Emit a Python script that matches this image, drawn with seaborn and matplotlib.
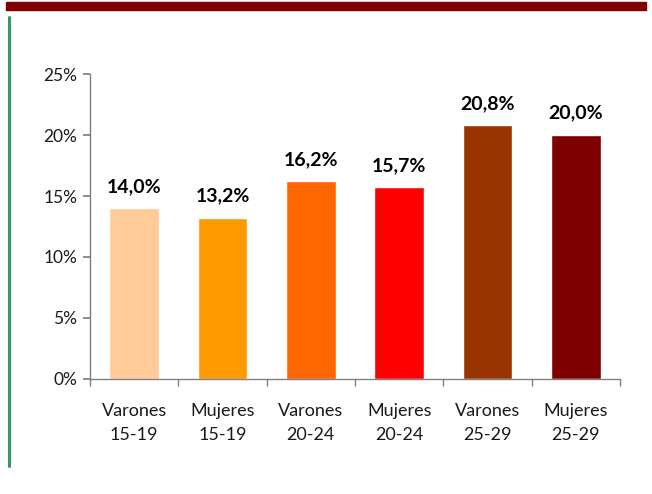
import matplotlib
matplotlib.use("Agg")
import matplotlib.pyplot as plt
import seaborn as sns
import pandas as pd
from matplotlib.ticker import FixedLocator, FuncFormatter
from matplotlib.patches import Rectangle
from matplotlib.lines import Line2D

categories = ["Varones\n15-19", "Mujeres\n15-19", "Varones\n20-24",
              "Mujeres\n20-24", "Varones\n25-29", "Mujeres\n25-29"]
values = [14.0, 13.2, 16.2, 15.7, 20.8, 20.0]
value_labels = ["14,0%", "13,2%", "16,2%", "15,7%", "20,8%", "20,0%"]
colors = ["#FFCC99", "#FF9900", "#FF6600", "#FF0000", "#993300", "#800000"]
y_ticks = [0, 5, 10, 15, 20, 25]

sns.set_theme(style="white")
plt.rcParams['font.family'] = ['Lato', 'DejaVu Sans']

df = pd.DataFrame({"cat": categories, "val": values})

fig = plt.figure(figsize=(6.52, 4.94), dpi=100)
ax = fig.add_axes([0.138, 0.233, 0.813, 0.617])

sns.barplot(data=df, x="cat", y="val", hue="cat", palette=colors,
            legend=False, width=0.56, saturation=1, ax=ax)

ax.set_ylim(0, 25)
ax.set_xlim(-0.5, len(categories) - 0.5)
ax.yaxis.set_major_locator(FixedLocator(y_ticks))
ax.yaxis.set_major_formatter(FuncFormatter(lambda v, p: f"{int(v)}%"))
ax.set_xlabel("")
ax.set_ylabel("")

for s in ["top", "right"]:
    ax.spines[s].set_visible(False)
for s in ["left", "bottom"]:
    ax.spines[s].set_color("#808080")
    ax.spines[s].set_linewidth(1)

ax.tick_params(axis="y", direction="out", length=5, color="#808080",
               left=True, labelsize=12.5, pad=4, labelcolor="#1a1a1a")
ax.set_xticks(range(len(categories)))
ax.set_xticklabels(categories, fontsize=13, linespacing=1.65, color="#1a1a1a")
ax.tick_params(axis="x", which="major", length=0, pad=17)
ax.set_xticks([i - 0.5 for i in range(len(categories) + 1)], minor=True)
ax.tick_params(axis="x", which="minor", direction="out", length=5,
               color="#808080", bottom=True)

for i, (v, lab) in enumerate(zip(values, value_labels)):
    ax.text(i, v + 1.1, lab, ha="center", va="bottom", fontsize=14,
            fontweight="bold", color="black")

# decorative frame elements
fig.patches.append(Rectangle((6 / 652, 1 - 10 / 494), 640 / 652, 8 / 494,
                             transform=fig.transFigure, color="#800000",
                             zorder=5))
fig.lines.append(Line2D([8.5 / 652, 8.5 / 652], [1 - 17 / 494, 1 - 466 / 494],
                        transform=fig.transFigure, color="#339966",
                        linewidth=2.2))

fig.savefig("out.png", dpi=100)
